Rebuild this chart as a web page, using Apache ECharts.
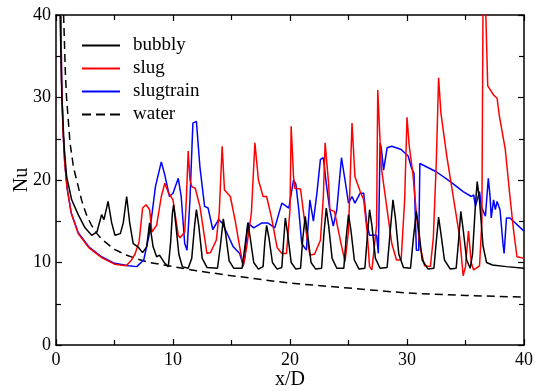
<!DOCTYPE html>
<html><head><meta charset="utf-8">
<script src="https://cdn.jsdelivr.net/npm/echarts@6/dist/echarts.min.js"></script>
<style>html,body{margin:0;padding:0;background:#fff}#c{width:536px;height:391px}</style>
</head><body><div id="c"></div>
<script>
const seriesNames = ['bubbly', 'slug', 'slugtrain', 'water'];
const xTicks = [0, 10, 20, 30, 40];
const yTicks = [0, 10, 20, 30, 40];

const bubbly = [[0.35,40],[0.5,30],[0.7,24],[0.91,20.4],[1.34,17.6],[1.9,15.8],[2.48,14.2],[3.05,13.3],[3.5,13.7],[3.9,15.8],[4.1,15.2],[4.45,17.4],[4.76,14.8],[5.04,13.3],[5.5,13.5],[5.75,14.8],[6.04,18.0],[6.3,14.8],[6.6,12.3],[7.0,11.9],[7.4,11.2],[7.75,11.9],[8.0,14.8],[8.3,11.9],[8.6,10.7],[8.85,10.9],[9.0,11.1],[9.3,9.9],[9.6,9.5],[9.8,12.5],[9.95,16.0],[10.05,17.0],[10.25,14.5],[10.5,11],[10.8,9.5],[11.3,9.3],[11.6,10.5],[11.85,14.5],[12.0,16.4],[12.2,14.5],[12.5,10.5],[12.9,9.4],[13.8,9.3],[14.05,12],[14.3,15.3],[14.5,13.5],[14.8,10.2],[15.2,9.3],[15.9,9.3],[16.15,12],[16.4,14.8],[16.6,13],[16.9,10],[17.3,9.2],[17.7,9.5],[17.85,12.5],[18.0,14.5],[18.2,13],[18.5,10],[18.9,9.2],[19.3,9.4],[19.45,12.5],[19.6,15.4],[19.8,13.5],[20.1,10],[20.5,9.2],[20.9,9.3],[21.1,13],[21.3,15.6],[21.5,13.5],[21.8,10],[22.2,9.2],[22.7,9.3],[22.9,13.5],[23.1,16.6],[23.3,14.5],[23.6,10.5],[24.0,9.3],[24.6,9.3],[24.8,13],[25.0,15.8],[25.2,14],[25.5,10.3],[25.9,9.2],[26.4,9.3],[26.6,13],[26.8,16.4],[27.0,14.5],[27.3,10.5],[27.7,9.3],[28.3,9.4],[28.55,13.5],[28.8,17.6],[29.0,15.5],[29.3,11],[29.7,9.4],[30.3,9.3],[30.55,13],[30.8,16.2],[31.0,14],[31.3,10.3],[31.8,9.2],[32.3,9.3],[32.5,12.5],[32.7,15.5],[32.9,13.5],[33.2,10.3],[33.7,9.2],[34.2,9.3],[34.4,12.5],[34.6,16.2],[34.8,14],[35.1,10.3],[35.4,9.3],[35.6,11],[35.85,17],[36.0,19.8],[36.2,17.5],[36.5,12],[36.8,10],[37.3,9.7],[38.5,9.5],[40,9.3]];

const slug = [[0.42,40],[0.48,32],[0.6,26],[0.75,22],[0.95,19],[1.3,16],[1.9,13.5],[2.8,11.8],[3.9,10.6],[5.0,9.8],[6.0,9.6],[6.4,10.2],[6.75,11.0],[7.1,12.5],[7.4,16.6],[7.7,17.0],[8.0,16.4],[8.2,13.7],[8.6,14.5],[9.0,18],[9.3,19.6],[9.6,18.5],[10.0,17.6],[10.45,13.3],[10.6,13.0],[11.0,13.7],[11.15,18],[11.3,23.5],[11.45,20],[11.6,19.2],[11.9,19],[12.3,16.8],[12.9,11.1],[13.2,11.2],[13.7,12.7],[13.95,16],[14.2,24.1],[14.4,18.8],[14.9,18.0],[15.3,15.2],[15.7,11.9],[16.0,9.5],[16.3,11.9],[16.7,16],[17.0,24.5],[17.3,20.0],[17.7,18.0],[18.0,18.0],[18.4,15.6],[18.9,11.8],[19.3,11.1],[19.7,11.1],[20.0,16.4],[20.1,26.5],[20.3,20.5],[20.4,19.0],[20.9,18.9],[21.3,14.4],[21.7,10.9],[22.1,11.0],[22.6,12.7],[22.85,18],[23.0,24.5],[23.3,19.6],[23.4,16.4],[23.8,16.2],[24.3,12.7],[24.7,10.1],[25.0,13.8],[25.3,26.9],[25.55,20.4],[26.0,18.6],[26.3,17.6],[26.6,13.6],[26.8,9.5],[27.0,9.1],[27.4,14.5],[27.5,30.9],[27.8,21.6],[28.3,16.4],[28.7,12.3],[29.1,10.3],[29.5,10.3],[29.8,17.6],[30.0,27.6],[30.2,24],[30.5,20.8],[30.8,16],[31.1,12],[31.5,9.6],[32.0,9.5],[32.25,13],[32.5,22],[32.7,32.4],[32.9,28.1],[33.4,22.9],[33.95,18.0],[34.5,13.1],[34.8,8.4],[35.0,9.5],[35.25,13.8],[35.5,9.9],[35.7,9.1],[36.2,9.6],[36.4,15],[36.5,42],[36.7,42],[36.9,31.4],[37.4,30.3],[37.7,29.9],[37.9,27.7],[38.4,23.7],[38.8,18.0],[39.1,14.0],[39.4,10.7],[39.7,10.6],[40,10.5]];

const slugtrain = [[0.42,40],[0.48,32],[0.6,26],[0.75,22],[0.95,19],[1.3,16],[1.9,13.6],[2.8,11.9],[3.9,10.7],[5.0,9.9],[6.2,9.6],[6.9,9.5],[7.5,10.3],[8.0,13.6],[8.5,19.2],[9.0,22.2],[9.3,20.6],[9.7,18.0],[10.0,18.4],[10.45,20.2],[10.7,18.0],[11.0,12.3],[11.2,11.5],[11.45,17.6],[11.7,26.9],[12.0,27.1],[12.3,21.6],[12.7,16.8],[13.0,16.6],[13.4,14.0],[13.9,15.2],[14.2,14.8],[14.6,13.6],[15.15,11.9],[15.7,11.1],[16.0,9.7],[16.15,10.7],[16.4,14.8],[16.9,14.2],[17.6,14.8],[18.1,14.8],[18.7,14.2],[19.3,17.2],[19.9,16.6],[20.3,20.0],[20.5,19.5],[20.75,16.4],[21.0,12.3],[21.4,11.5],[21.7,17.6],[22.0,15.0],[22.3,18.4],[22.6,22.5],[22.85,22.7],[23.1,19.6],[23.4,16.4],[23.7,14.4],[24.0,16.4],[24.4,22.7],[24.7,20.0],[25.0,17.2],[25.3,18.0],[25.55,17.2],[26.0,18.4],[26.3,18.4],[26.55,14.8],[26.8,13.3],[27.4,13.3],[27.55,11.1],[27.7,24.5],[27.8,23.9],[28.0,21.2],[28.3,23.9],[28.7,24.1],[29.5,23.7],[30.1,22.9],[30.4,21.4],[30.6,20.8],[30.8,11.5],[31.0,11.5],[31.1,22.0],[32.5,21.0],[33.7,19.8],[34.8,18.6],[35.5,18.0],[35.7,18.2],[35.85,16.8],[36.2,18.6],[36.35,16.8],[36.7,15.6],[36.95,20.2],[37.1,18.0],[37.2,15.4],[37.4,17.6],[37.55,16.4],[37.7,17.4],[37.95,16.4],[38.2,12.3],[38.3,11.1],[38.5,15.4],[38.8,15.4],[40,13.8]];

const water = [[0.65,40],[0.8,33],[0.9,30],[1.2,24.5],[1.5,21.5],[1.8,19.8],[2.2,17.5],[2.6,15.8],[3.0,14.6],[3.5,13.5],[4.0,12.7],[5.0,11.6],[6.0,10.9],[7.0,10.4],[8.0,10.0],[10,9.5],[12,9.0],[15,8.4],[20,7.5],[25,6.9],[30,6.3],[35,6.0],[40,5.8]];

const FONT = '"Liberation Serif", "DejaVu Serif", serif';
const chart = echarts.init(document.getElementById('c'), null, {renderer: 'canvas'});

function axisCommon(showLabel) {
  return {
    min: 0, max: 40, interval: 10,
    axisLine: {show: true, onZero: false, lineStyle: {color: '#000', width: 1.5}},
    axisTick: {show: true, inside: true, length: 6, lineStyle: {color: '#000', width: 1.2}},
    minorTick: {show: true, splitNumber: 2, length: 5, lineStyle: {color: '#000', width: 1.2}},
    splitLine: {show: false},
    axisLabel: {show: showLabel, color: '#000', fontFamily: FONT, fontSize: 18}
  };
}

const colors = ['#000000', '#ff0000', '#0000ff', '#000000'];
const datasets = [bubbly, slug, slugtrain, water];
const solidIcon = 'path://M0,0h38v2h-38z';
const dashIcon = 'path://M0,0h9v2h-9z M14,0h9v2h-9z M28,0h10v2h-10z';

chart.setOption({
  animation: false,
  backgroundColor: '#fff',
  grid: {left: 56, right: 12, top: 15, bottom: 46, containLabel: false, outerBoundsMode: 'none'},
  legend: {
    show: true, orient: 'vertical', left: 77, top: 31,
    itemWidth: 38, itemHeight: 2, itemGap: 4, symbolKeepAspect: false,
    data: seriesNames.map((n, i) => ({name: n, icon: i === 3 ? dashIcon : solidIcon,
      itemStyle: {color: colors[i]}})),
    textStyle: {color: '#000', fontFamily: FONT, fontSize: 19, padding: [0, 0, 0, 8]}
  },
  xAxis: [
    Object.assign(axisCommon(true), {type: 'value', position: 'bottom',
      name: 'x/D', nameLocation: 'middle', nameGap: 25, nameMoveOverlap: false,
      nameTextStyle: {color: '#000', fontFamily: FONT, fontSize: 20},
      axisLabel: {show: true, color: '#000', fontFamily: FONT, fontSize: 18, margin: 6,
        formatter: v => xTicks.includes(v) ? String(v) : ''}}),
    Object.assign(axisCommon(false), {type: 'value', position: 'top'})
  ],
  yAxis: [
    Object.assign(axisCommon(true), {type: 'value', position: 'left',
      name: 'Nu', nameLocation: 'middle', nameGap: 24, nameMoveOverlap: false,
      nameTextStyle: {color: '#000', fontFamily: FONT, fontSize: 20},
      axisLabel: {show: true, color: '#000', fontFamily: FONT, fontSize: 18, margin: 5,
        formatter: v => yTicks.includes(v) ? String(v) : ''}}),
    Object.assign(axisCommon(false), {type: 'value', position: 'right'})
  ],
  series: seriesNames.map((n, i) => ({
    name: n, type: 'line', data: datasets[i], xAxisIndex: 0, yAxisIndex: 0,
    symbol: 'none', clip: true, z: 10 - i,
    lineStyle: {color: colors[i], width: 1.5, type: i === 3 ? [8, 5] : 'solid'},
    itemStyle: {color: colors[i]}
  }))
});
</script></body></html>
